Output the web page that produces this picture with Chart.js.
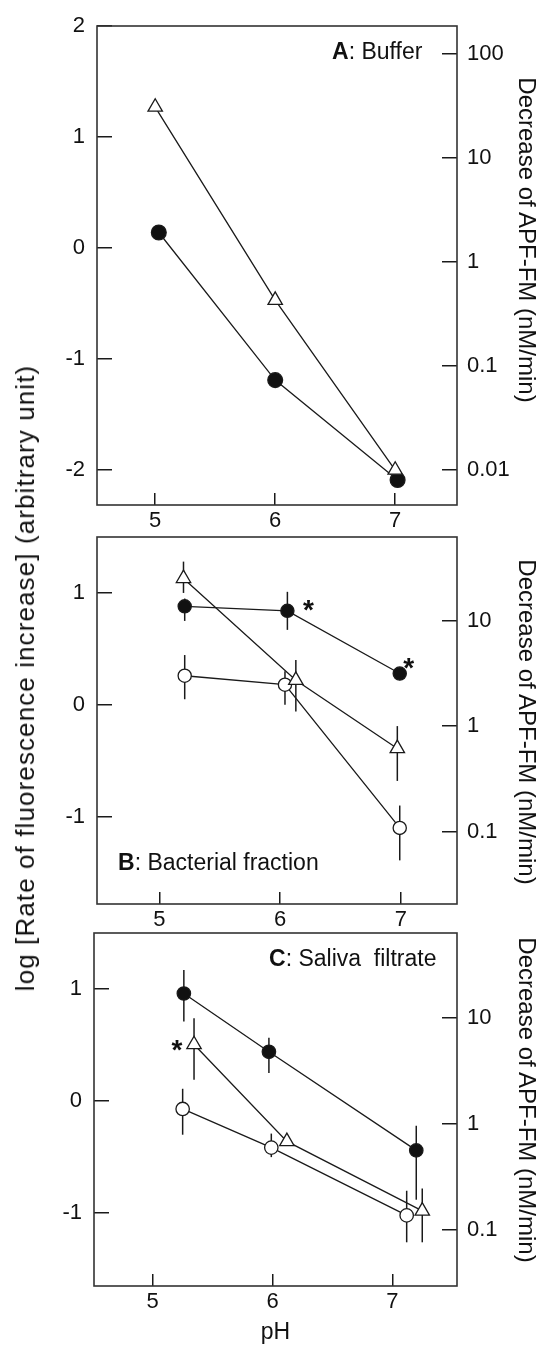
<!DOCTYPE html>
<html>
<head>
<meta charset="utf-8">
<script src="https://cdn.jsdelivr.net/npm/chart.js@4.4.1/dist/chart.umd.min.js"></script>
<style>
  body { margin: 0; background: #fff; }
  #wrap { position: relative; width: 542px; height: 1346px; overflow: hidden;
          font-family: "Liberation Sans", Arial, sans-serif; color: #111; }
  #wrap canvas { position: absolute; left: 0; }
  .lbl { position: absolute; font-size: 23px; line-height: 1; white-space: pre; transform: translateY(-50%); }
  .vt { position: absolute; font-size: 24px; line-height: 1; white-space: nowrap; }
</style>
</head>
<body>
<div id="wrap">
  <canvas id="chartA" width="542" height="535" style="top:0px"></canvas>
  <canvas id="chartB" width="542" height="420" style="top:510px"></canvas>
  <canvas id="chartC" width="542" height="441" style="top:905px"></canvas>
  <div class="lbl" style="left:332px; top:51px"><b>A</b>: Buffer</div>
  <div class="lbl" style="left:118px; top:862px"><b>B</b>: Bacterial fraction</div>
  <div class="lbl" style="left:269px; top:958px"><b>C</b>: Saliva  filtrate</div>
  <div class="vt" id="leftTitle" style="left:25px; top:678px; font-size:26px; letter-spacing:1.1px; transform:translate(-50%,-50%) rotate(-90deg)"></div>
  <div class="vt rt" style="left:527px; top:240px; transform:translate(-50%,-50%) rotate(90deg)"></div>
  <div class="vt rt" style="left:527px; top:722px; transform:translate(-50%,-50%) rotate(90deg)"></div>
  <div class="vt rt" style="left:527px; top:1100px; transform:translate(-50%,-50%) rotate(90deg)"></div>
</div>
<script>
// ---- values ----
// A: buffer (no error bars)
const phA_filled = [5.03, 6.0, 7.02];
const logA_filled = [0.14, -1.19, -2.09];
const phA_tri = [5.0, 6.0, 7.0];
const logA_tri = [1.27, -0.47, -2.0];

// B: bacterial fraction (hi / lo = ends of the error bars)
const phB_filled = [5.21, 6.06, 6.99];
const logB_filled = [0.88, 0.84, 0.28];
const hiB_filled = [0.95, 1.01, 0.33];
const loB_filled = [0.75, 0.67, 0.22];
const phB_tri = [5.2, 6.13, 6.97];
const logB_tri = [1.13, 0.22, -0.39];
const hiB_tri = [1.28, 0.40, -0.19];
const loB_tri = [1.0, -0.06, -0.68];
const phB_open = [5.21, 6.04, 6.99];
const logB_open = [0.26, 0.18, -1.10];
const hiB_open = [0.445, 0.30, -0.90];
const loB_open = [0.05, 0.0, -1.39];

// C: saliva filtrate
const phC_filled = [5.26, 5.97, 7.2];
const logC_filled = [0.96, 0.44, -0.44];
const hiC_filled = [1.17, 0.565, -0.22];
const loC_filled = [0.71, 0.25, -0.88];
const phC_tri = [5.345, 6.12, 7.25];
const logC_tri = [0.505, -0.36, -0.98];
const hiC_tri = [0.74, -0.36, -0.78];
const loC_tri = [0.19, -0.36, -1.26];
const phC_open = [5.25, 5.99, 7.12];
const logC_open = [-0.07, -0.415, -1.02];
const hiC_open = [0.11, -0.29, -0.80];
const loC_open = [-0.30, -0.50, -1.26];

// significance marks: [series, point index]
const starsB = [["filled", 1], ["filled", 2]];
const starsC = [["tri", 0]];

// ticks and titles
const phTicks = [5, 6, 7];
const logTicksA = [-2, -1, 0, 1, 2];
const logTicksBC = [-1, 0, 1];
const rateTicksA = [0.01, 0.1, 1, 10, 100];
const rateTicksBC = [0.1, 1, 10];
const leftTitle = "log [Rate of fluorescence increase] (arbitrary unit)";
const rightTitle = "Decrease of APF-FM (nM/min)";
const xTitle = "pH";

document.getElementById("leftTitle").textContent = leftTitle;
document.querySelectorAll(".rt").forEach((el) => (el.textContent = rightTitle));

const INK = "#1a1a1a";
const FONT = "'Liberation Sans', Arial, sans-serif";

function pts(xs, ys) {
  return xs.map((x, i) => ({ x: x, y: ys[i] }));
}

function series(name, xs, ys, hi, lo, r) {
  const tri = name === "tri";
  return {
    name: name,
    data: pts(xs, ys),
    errHi: hi,
    errLo: lo,
    borderColor: INK,
    borderWidth: 1.3,
    pointStyle: tri ? "triangle" : "circle",
    pointRadius: tri ? 8.3 : r,
    pointHoverRadius: tri ? 8.3 : r,
    pointBackgroundColor: name === "filled" ? "#111" : "#fff",
    pointBorderColor: INK,
    pointBorderWidth: 1.3,
    clip: false,
  };
}

// box around the plot + vertical error bars under the markers
const frameAndErrors = {
  id: "frameAndErrors",
  beforeDatasetsDraw(chart) {
    const { ctx, chartArea: a } = chart;
    const xs = chart.scales.x;
    const ys = chart.scales.y;
    ctx.save();
    ctx.strokeStyle = "#333";
    ctx.lineWidth = 1.6;
    ctx.strokeRect(a.left, a.top, a.right - a.left, a.bottom - a.top);
    ctx.strokeStyle = INK;
    ctx.lineWidth = 1.5;
    chart.data.datasets.forEach((ds) => {
      if (!ds.errHi) return;
      ds.data.forEach((p, i) => {
        const px = xs.getPixelForValue(p.x);
        ctx.beginPath();
        ctx.moveTo(px, ys.getPixelForValue(ds.errHi[i]));
        ctx.lineTo(px, ys.getPixelForValue(ds.errLo[i]));
        ctx.stroke();
      });
    });
    ctx.restore();
  },
};

function starPlugin(list, offsets) {
  return {
    id: "stars",
    afterDatasetsDraw(chart) {
      const ctx = chart.ctx;
      ctx.save();
      ctx.fillStyle = "#111";
      ctx.font = "bold 28px " + FONT;
      ctx.textAlign = "center";
      ctx.textBaseline = "alphabetic";
      list.forEach(([name, i], k) => {
        const ds = chart.data.datasets.find((d) => d.name === name);
        const p = ds.data[i];
        const px = chart.scales.x.getPixelForValue(p.x) + offsets[k][0];
        const py = chart.scales.y.getPixelForValue(p.y) + offsets[k][1];
        ctx.fillText("*", px, py + 16);
      });
      ctx.restore();
    },
  };
}

// fixed axis sizes, no automatic label padding
function fixSize(prop, size) {
  return (s) => {
    s[prop] = size;
    s.paddingTop = 0;
    s.paddingBottom = 0;
    s.paddingLeft = 0;
    s.paddingRight = 0;
  };
}

function makePanel(id, p) {
  const tickFont = { family: FONT, size: 22 };
  const grid = { drawOnChartArea: false, drawTicks: true, color: INK, lineWidth: 1.5 };
  return new Chart(document.getElementById(id), {
    type: "line",
    data: { datasets: p.datasets },
    options: {
      responsive: false,
      animation: false,
      devicePixelRatio: 1,
      layout: { padding: { top: p.padTop, left: 0, right: 0, bottom: 0 } },
      elements: { line: { tension: 0 } },
      plugins: { legend: { display: false }, tooltip: { enabled: false } },
      scales: {
        x: {
          type: "linear",
          position: "bottom",
          min: p.xMin,
          max: p.xMax,
          afterBuildTicks: (s) => { s.ticks = phTicks.map((v) => ({ value: v })); },
          afterFit: fixSize("height", p.xH),
          grid: Object.assign({ tickLength: -12 }, grid),
          border: { display: false },
          ticks: { padding: 15, color: "#111", font: tickFont, maxRotation: 0, autoSkip: false },
          title: p.xTitle
            ? { display: true, text: p.xTitle, color: "#111", font: { family: FONT, size: 23 }, padding: { top: 0, bottom: 0 } }
            : { display: false },
        },
        y: {
          type: "linear",
          position: "left",
          min: p.yMin,
          max: p.yMax,
          afterBuildTicks: (s) => { s.ticks = p.yTicks.map((v) => ({ value: v })); },
          afterFit: fixSize("width", p.left),
          grid: Object.assign({ tickLength: -15 }, grid),
          border: { display: false },
          ticks: { padding: 27, color: "#111", font: tickFont, callback: (v) => String(v) },
        },
        yR: {
          type: "logarithmic",
          position: "right",
          min: p.rMin,
          max: p.rMax,
          afterBuildTicks: (s) => { s.ticks = p.rTicks.map((v) => ({ value: v })); },
          afterFit: fixSize("width", 542 - 457),
          grid: Object.assign({ tickLength: -15 }, grid),
          border: { display: false },
          ticks: { padding: 25, color: "#111", font: tickFont, callback: (v) => String(v) },
        },
      },
    },
    plugins: [frameAndErrors].concat(p.stars ? [starPlugin(p.stars, p.starOffsets)] : []),
  });
}

makePanel("chartA", {
  padTop: 26, left: 97, xH: 30,
  xMin: 4.515, xMax: 7.515, yMin: -2.315, yMax: 2,
  rMin: Math.pow(10, -2.337), rMax: Math.pow(10, 2.269),
  yTicks: logTicksA, rTicks: rateTicksA,
  datasets: [
    series("tri", phA_tri, logA_tri, null, null, 7),
    series("filled", phA_filled, logA_filled, null, null, 7.4),
  ],
});

makePanel("chartB", {
  padTop: 27, left: 97, xH: 26,
  xMin: 4.484, xMax: 7.464, yMin: -1.78, yMax: 1.5,
  rMin: Math.pow(10, -1.688), rMax: Math.pow(10, 1.796),
  yTicks: logTicksBC, rTicks: rateTicksBC,
  stars: starsB, starOffsets: [[21, -8], [9, -13]],
  datasets: [
    series("tri", phB_tri, logB_tri, hiB_tri, loB_tri, 6.6),
    series("filled", phB_filled, logB_filled, hiB_filled, loB_filled, 6.6),
    series("open", phB_open, logB_open, hiB_open, loB_open, 6.6),
  ],
});

makePanel("chartC", {
  padTop: 28, left: 94, xH: 60, xTitle: xTitle,
  xMin: 4.51, xMax: 7.54, yMin: -1.65, yMax: 1.5,
  rMin: Math.pow(10, -1.53), rMax: Math.pow(10, 1.803),
  yTicks: logTicksBC, rTicks: rateTicksBC,
  stars: starsC, starOffsets: [[-17, -2]],
  datasets: [
    series("tri", phC_tri, logC_tri, hiC_tri, loC_tri, 6.7),
    series("filled", phC_filled, logC_filled, hiC_filled, loC_filled, 6.7),
    series("open", phC_open, logC_open, hiC_open, loC_open, 6.7),
  ],
});
</script>
</body>
</html>
